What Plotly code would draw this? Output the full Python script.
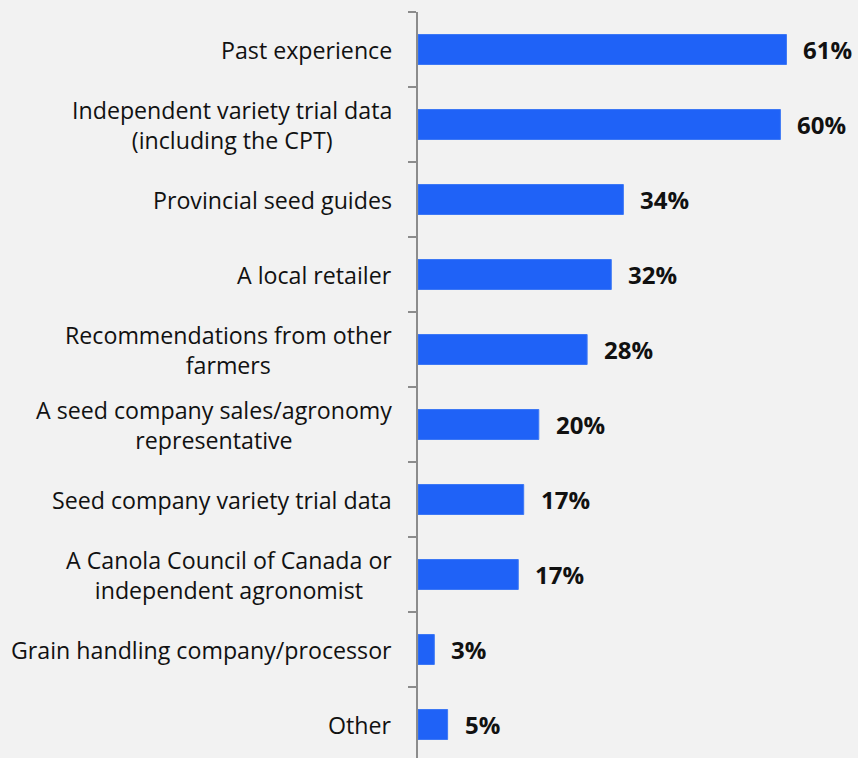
import plotly.graph_objects as go

categories = [
    "Past experience",
    "Independent variety trial data<br>(including the CPT)",
    "Provincial seed guides",
    "A local retailer",
    "Recommendations from other<br>farmers",
    "A seed company sales/agronomy<br>representative",
    "Seed company variety trial data",
    "A Canola Council of Canada or<br>independent agronomist",
    "Grain handling company/processor",
    "Other",
]
values = [61, 60, 34, 32, 28, 20, 17, 17, 3, 5]
bar_lengths = [61, 60, 34, 32, 28, 20, 17.5, 16.6, 2.7, 4.9]

W, H = 858, 758
L, T = 418, 12
FONT = "Open Sans"
BAR = "#1f62f7"

fig = go.Figure()
fig.add_trace(go.Bar(
    x=bar_lengths, y=list(range(len(categories))), orientation="h",
    marker=dict(color=BAR, line=dict(color="#3d78f5", width=1)),
    width=0.4, hoverinfo="skip",
))

annotations = []
for i, (c, v, b) in enumerate(zip(categories, values, bar_lengths)):
    annotations.append(dict(
        x=0, xref="paper", y=i, yref="y", text=c, showarrow=False,
        xanchor="right", yanchor="middle", align="center", xshift=-24,
        font=dict(family=FONT, size=23.2, color="#111111"),
    ))
    annotations.append(dict(
        x=b, xref="x", y=i, yref="y", text=f"<b>{v}%</b>", showarrow=False,
        xanchor="left", yanchor="middle", xshift=15,
        font=dict(family=FONT, size=24, color="#111111"),
    ))

px_per_cat = 75
plot_h = H - T
fig.update_layout(
    width=W, height=H,
    margin=dict(l=L, r=0, t=T, b=0, pad=0),
    paper_bgcolor="#f2f2f2", plot_bgcolor="#f2f2f2",
    showlegend=False,
    annotations=annotations,
    xaxis=dict(range=[0, (W - L) / 6.04], visible=False, showgrid=False, zeroline=False),
    yaxis=dict(
        range=[-0.5 + plot_h / px_per_cat, -0.5],
        tickmode="array", tickvals=[i - 0.5 for i in range(len(categories) + 1)],
        ticktext=[""] * (len(categories) + 1),
        ticks="outside", ticklen=8, tickwidth=2, tickcolor="#8c8c8c",
        showline=True, linecolor="#8c8c8c", linewidth=2,
        showgrid=False, zeroline=False,
    ),
)
fig.write_html(
    "out.html",
    config={"displayModeBar": False},
    post_script="document.body.style.margin='0';document.body.style.background='#f2f2f2';",
)
